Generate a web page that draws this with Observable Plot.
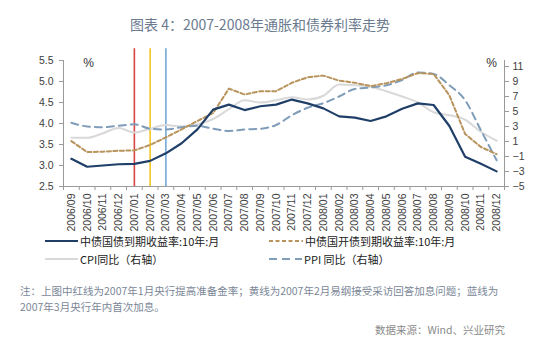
<!DOCTYPE html>
<html>
<head>
<meta charset="utf-8">
<script src="https://cdn.jsdelivr.net/npm/d3@7"></script>
<script src="https://cdn.jsdelivr.net/npm/@observablehq/plot@0.6"></script>
<style>
  html, body { margin: 0; padding: 0; background: #fff; }
  #wrap { position: relative; width: 554px; height: 350px; background: #fff; overflow: hidden; }
  .abs { position: absolute; white-space: nowrap; }
  #title { left: 0; width: 520px; top: 14px; text-align: center; font: 400 14px "Noto Sans CJK SC", "Noto Sans", sans-serif; line-height: 20px; color: #6b7b8f; }
  #chart { left: 0; top: 40px; }
  .leg { font: 400 11px "Noto Sans CJK SC", sans-serif; color: #222; line-height: 16px; display: flex; align-items: center; }
  .leg svg { display: block; margin-right: 2px; }
  #note { left: 20px; top: 283px; font: 400 10.5px "Noto Sans CJK SC", sans-serif; line-height: 16px; color: #7b8797; }
  #source { right: 49px; top: 322px; font: 400 10.5px "Noto Sans CJK SC", sans-serif; line-height: 16px; color: #8a8a8a; }
</style>
</head>
<body>
<div id="wrap">
  <div id="title" class="abs">图表 4：2007-2008年通胀和债券利率走势</div>
  <div id="chart" class="abs"></div>
  <div id="legend"></div>
  <div id="note" class="abs">注：上图中红线为2007年1月央行提高准备金率；黄线为2007年2月易纲接受采访回答加息问题；蓝线为<br>2007年3月央行年内首次加息。</div>
  <div id="source" class="abs">数据来源：Wind、兴业研究</div>
</div>
<script>
// ---- data ----
const months = ["2006/09","2006/10","2006/11","2006/12","2007/01","2007/02","2007/03","2007/04","2007/05","2007/06","2007/07","2007/08","2007/09","2007/10","2007/11","2007/12","2008/01","2008/02","2008/03","2008/04","2008/05","2008/06","2008/07","2008/08","2008/09","2008/10","2008/11","2008/12"];
const gov10y = [3.16, 2.97, 3.00, 3.03, 3.04, 3.11, 3.29, 3.53, 3.86, 4.33, 4.45, 4.32, 4.41, 4.45, 4.57, 4.48, 4.36, 4.17, 4.14, 4.06, 4.17, 4.35, 4.48, 4.44, 3.94, 3.21, 3.04, 2.86];
const cdb10y = [3.58, 3.32, 3.33, 3.35, 3.36, 3.49, 3.67, 3.86, 4.06, 4.25, 4.83, 4.69, 4.77, 4.77, 4.97, 5.10, 5.14, 5.02, 4.97, 4.89, 4.96, 5.06, 5.20, 5.18, 4.67, 3.75, 3.44, 3.27];
const cpi = [1.5, 1.5, 2.1, 2.8, 2.2, 2.7, 3.2, 3.0, 3.3, 4.0, 5.3, 6.5, 6.2, 6.5, 6.9, 6.6, 7.1, 8.6, 8.5, 8.3, 7.7, 7.0, 6.2, 4.9, 4.5, 3.9, 2.3, 1.1];
const ppi = [3.5, 3.0, 2.9, 3.1, 3.3, 2.7, 2.6, 2.9, 3.1, 2.7, 2.4, 2.6, 2.7, 3.2, 4.5, 5.5, 6.1, 7.0, 8.0, 8.2, 8.5, 9.2, 10.2, 10.0, 8.5, 6.5, 2.5, -1.5];
const eventMonths = ["2007/01", "2007/02", "2007/03"];
const eventColors = ["#d84343", "#f3c623", "#72a9d8"];
const leftTicks = [2.5, 3.0, 3.5, 4.0, 4.5, 5.0, 5.5];
const rightTicks = [-5, -3, -1, 1, 3, 5, 7, 9, 11];
const seriesNames = ["中债国债到期收益率:10年:月", "中债国开债到期收益率:10年:月", "CPI同比（右轴）", "PPI 同比（右轴）"];

// ---- scales helpers ----
const leftDomain = [2.5, 5.5];
const rightDomain = [-5, 11];
const plotH = 126;           // px between 2.5 and 5.5 on left axis
const rightH = 120;          // px spanned by right axis -5..11
const toLeft = v => leftDomain[0] + (v - rightDomain[0]) / (rightDomain[1] - rightDomain[0]) * rightH / plotH * (leftDomain[1] - leftDomain[0]);
const fromLeft = u => (u - leftDomain[0]) / (leftDomain[1] - leftDomain[0]) * plotH / rightH * (rightDomain[1] - rightDomain[0]) + rightDomain[0];
const eventTop = 5.78;       // event lines rise slightly above the plot frame

const rows = months.map((m, i) => ({i, m, gov: gov10y[i], cdb: cdb10y[i], cpi: toLeft(cpi[i]), ppi: toLeft(ppi[i])}));
const events = eventMonths.map((m, k) => ({i: months.indexOf(m), color: eventColors[k]}));
const bounds = d3.range(months.length + 1).map(k => k - 0.5);

const colors = {gov: "#1f3f68", cdb: "#b8945c", cpi: "#d9d9d9", ppi: "#7f9cb9"};

const chart = Plot.plot({
  width: 554,
  height: 196,
  marginTop: 20,
  marginBottom: 50,
  marginLeft: 63,
  marginRight: 50,
  style: {fontFamily: "'Liberation Sans', Arial, sans-serif", fontSize: "10.5px", color: "#404040", background: "transparent"},
  x: {domain: [-0.5, months.length - 0.5], axis: null},
  y: {domain: leftDomain, axis: null},
  marks: [
    Plot.ruleX(events, {x: "i", y1: leftDomain[0], y2: eventTop, stroke: "color", strokeWidth: 1.6}),
    Plot.line(rows, {x: "i", y: "cpi", stroke: colors.cpi, strokeWidth: 2, curve: "monotone-x"}),
    Plot.line(rows, {x: "i", y: "ppi", stroke: colors.ppi, strokeWidth: 2, strokeDasharray: "7,5", curve: "monotone-x"}),
    Plot.line(rows, {x: "i", y: "cdb", stroke: colors.cdb, strokeWidth: 2, strokeDasharray: "4,2.5"}),
    Plot.line(rows, {x: "i", y: "gov", stroke: colors.gov, strokeWidth: 2.2}),
    Plot.frame({anchor: "left", stroke: "#9a9a9a"}),
    Plot.frame({anchor: "right", stroke: "#9a9a9a"}),
    Plot.frame({anchor: "bottom", stroke: "#9a9a9a"}),
    Plot.axisY({anchor: "left", ticks: leftTicks, tickFormat: d3.format(".1f"), tickSize: 4, tickPadding: 6, stroke: "#9a9a9a", fill: "#404040", label: null}),
    Plot.axisY({anchor: "right", ticks: rightTicks.map(toLeft), tickFormat: u => { const v = Math.round(fromLeft(u)); return v < 0 ? "−" + Math.abs(v) : String(v); }, tickSize: 4, tickPadding: 4, stroke: "#9a9a9a", fill: "#404040", label: null}),
    Plot.axisX({anchor: "bottom", ticks: bounds, tickFormat: () => "", tickSize: 4, stroke: "#9a9a9a", label: null}),
    Plot.axisX({anchor: "bottom", ticks: d3.range(months.length), tickFormat: i => months[i], tickRotate: -90, tickSize: 0, tickPadding: 7, fill: "#404040", label: null}),
    Plot.text(["%"], {frameAnchor: "top-left", dx: 25, dy: 3, textAnchor: "middle", lineAnchor: "middle", fontSize: 12, fill: "#333"}),
    Plot.text(["%"], {frameAnchor: "top-right", dx: -13, dy: 3, textAnchor: "middle", lineAnchor: "middle", fontSize: 12, fill: "#333"})
  ]
});
document.getElementById("chart").appendChild(chart);

// ---- legend ----
const legendItems = [
  {name: seriesNames[0], color: colors.gov, dash: null, w: 2.2, left: 45, top: 233, lw: 33},
  {name: seriesNames[1], color: colors.cdb, dash: "4,2.5", w: 2, left: 269, top: 233, lw: 34},
  {name: seriesNames[2], color: colors.cpi, dash: null, w: 2, left: 45, top: 251, lw: 33},
  {name: seriesNames[3], color: colors.ppi, dash: "8,5", w: 2, left: 269, top: 251, lw: 33}
];
const legend = document.getElementById("legend");
for (const it of legendItems) {
  const div = document.createElement("div");
  div.className = "abs leg";
  div.style.left = it.left + "px";
  div.style.top = it.top + "px";
  div.innerHTML = `<svg width="${it.lw}" height="16"><line x1="0" x2="${it.lw}" y1="8" y2="8" stroke="${it.color}" stroke-width="${it.w}" ${it.dash ? `stroke-dasharray="${it.dash}"` : ""}/></svg><span>${it.name}</span>`;
  legend.appendChild(div);
}
</script>
</body>
</html>
